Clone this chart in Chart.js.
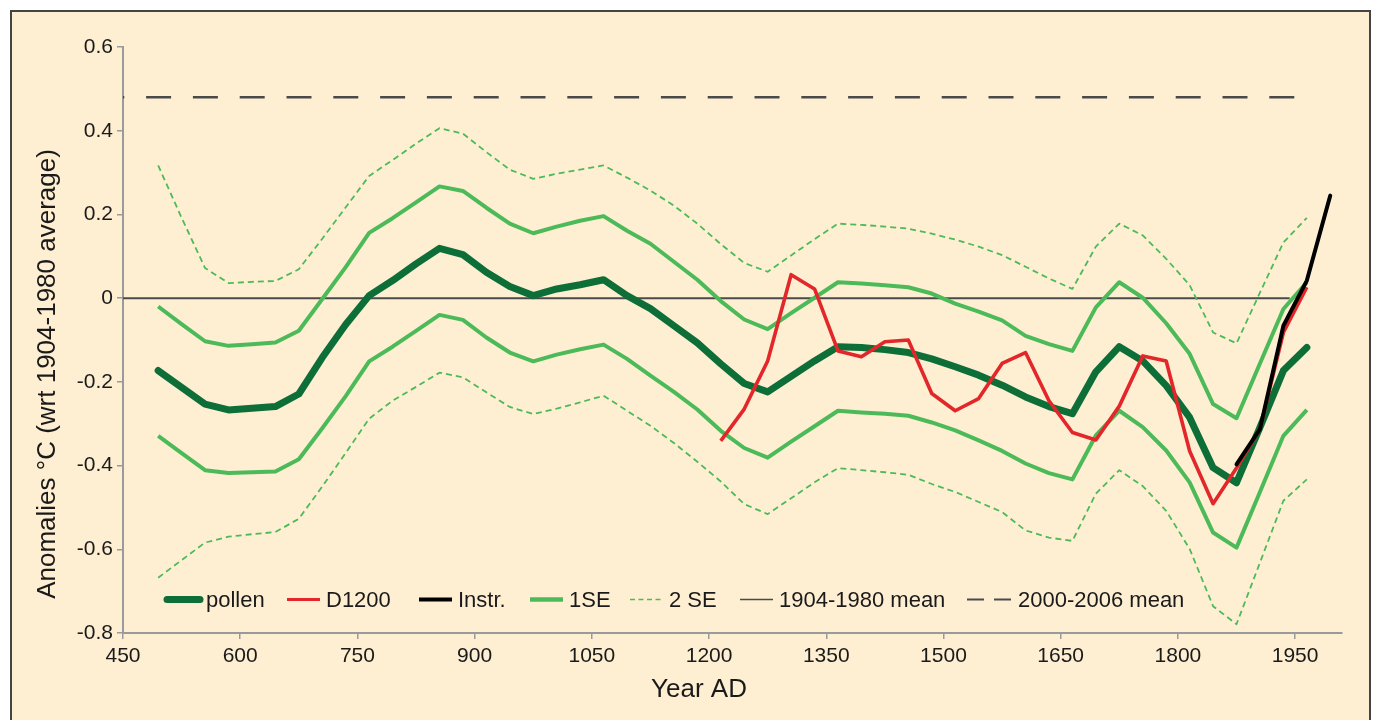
<!DOCTYPE html>
<html>
<head>
<meta charset="utf-8">
<title>Pollen temperature reconstruction</title>
<script src="https://cdn.jsdelivr.net/npm/chart.js@4.4.1/dist/chart.umd.min.js"></script>
<style>
    html, body { margin: 0; padding: 0; background: #ffffff; overflow: hidden; }
    #marco {
        position: absolute; left: 10px; top: 10px; width: 1361px; height: 760px;
        box-sizing: border-box; border: 2px solid #444; background: #feefd2;
    }
    #grafico { position: absolute; left: 0; top: 0; }
</style>
</head>
<body>
<div id="marco"></div>
<canvas id="grafico" width="1376" height="720"></canvas>
<script>
// ── Data ──────────────────────────────────────────────────
const years = [495, 525, 555, 585, 615, 645, 675, 705, 735, 765,
    795, 825, 855, 885, 915, 945, 975, 1005, 1035, 1065,
    1095, 1125, 1155, 1185, 1215, 1245, 1275, 1305, 1335, 1365,
    1395, 1425, 1455, 1485, 1515, 1545, 1575, 1605, 1635, 1665,
    1695, 1725, 1755, 1785, 1815, 1845, 1875, 1905, 1935, 1965];

const pollen = [-0.173, -0.213, -0.253, -0.267, -0.263, -0.259, -0.229, -0.142, -0.063, 0.006,
    0.042, 0.082, 0.119, 0.104, 0.062, 0.028, 0.006, 0.022, 0.032, 0.044,
    0.006, -0.025, -0.066, -0.107, -0.157, -0.204, -0.224, -0.187, -0.150, -0.116,
    -0.118, -0.123, -0.130, -0.145, -0.164, -0.184, -0.208, -0.236, -0.259, -0.276,
    -0.176, -0.116, -0.150, -0.209, -0.285, -0.405, -0.441, -0.309, -0.173, -0.118];

const se1Upper = [-0.020, -0.062, -0.103, -0.114, -0.110, -0.106, -0.078, -0.002, 0.074, 0.156,
    0.191, 0.229, 0.267, 0.256, 0.216, 0.178, 0.155, 0.171, 0.185, 0.196,
    0.161, 0.130, 0.087, 0.044, -0.007, -0.051, -0.074, -0.036, 0.001, 0.038,
    0.035, 0.031, 0.026, 0.011, -0.013, -0.032, -0.053, -0.090, -0.110, -0.126,
    -0.022, 0.038, 0.001, -0.060, -0.133, -0.253, -0.287, -0.156, -0.026, 0.038];

const se1Lower = [-0.329, -0.370, -0.411, -0.418, -0.416, -0.414, -0.385, -0.311, -0.234, -0.151,
    -0.116, -0.078, -0.040, -0.052, -0.094, -0.130, -0.151, -0.135, -0.122, -0.111,
    -0.145, -0.185, -0.224, -0.266, -0.317, -0.358, -0.381, -0.343, -0.306, -0.269,
    -0.273, -0.276, -0.281, -0.297, -0.316, -0.340, -0.365, -0.395, -0.418, -0.433,
    -0.328, -0.269, -0.308, -0.364, -0.440, -0.560, -0.596, -0.463, -0.329, -0.267];

const se2Upper = [0.317, 0.192, 0.072, 0.036, 0.039, 0.041, 0.069, 0.142, 0.217, 0.292,
    0.330, 0.369, 0.406, 0.393, 0.349, 0.307, 0.285, 0.297, 0.307, 0.317,
    0.288, 0.257, 0.221, 0.178, 0.129, 0.084, 0.063, 0.102, 0.141, 0.178,
    0.175, 0.171, 0.166, 0.154, 0.140, 0.123, 0.103, 0.075, 0.047, 0.022,
    0.123, 0.178, 0.150, 0.094, 0.031, -0.082, -0.108, 0.013, 0.133, 0.192];

const se2Lower = [-0.668, -0.626, -0.584, -0.570, -0.564, -0.559, -0.527, -0.450, -0.370, -0.288,
    -0.245, -0.212, -0.178, -0.189, -0.225, -0.260, -0.277, -0.264, -0.249, -0.233,
    -0.269, -0.305, -0.346, -0.391, -0.438, -0.492, -0.516, -0.478, -0.440, -0.406,
    -0.411, -0.416, -0.422, -0.444, -0.463, -0.487, -0.511, -0.555, -0.572, -0.580,
    -0.467, -0.411, -0.449, -0.508, -0.599, -0.736, -0.779, -0.632, -0.484, -0.433];

const d1200Years = [1215, 1245, 1275, 1305, 1335, 1365, 1395, 1425, 1455, 1485,
    1515, 1545, 1575, 1605, 1635, 1665, 1695, 1725, 1755, 1785,
    1815, 1845, 1875, 1905, 1935, 1965];
const d1200 = [-0.341, -0.265, -0.150, 0.056, 0.022, -0.126, -0.140, -0.104, -0.100, -0.228,
    -0.269, -0.240, -0.156, -0.130, -0.245, -0.321, -0.339, -0.258, -0.138, -0.150,
    -0.365, -0.491, -0.406, -0.313, -0.082, 0.026];

const instrYears = [1875, 1905, 1935, 1965, 1995];
const instr = [-0.397, -0.313, -0.066, 0.042, 0.245];

const meanYears = [450, 1943];
const mean1904 = [0, 0];
const recentYears = [450, 1950];
const mean2000 = [0.48, 0.48];

const xTicks = [450, 600, 750, 900, 1050, 1200, 1350, 1500, 1650, 1800, 1950];
const yTicks = [-0.8, -0.6, -0.4, -0.2, 0, 0.2, 0.4, 0.6];

// ── Helpers ───────────────────────────────────────────────
const pts = (xs, ys) => xs.map((x, i) => ({ x, y: ys[i] }));

const GREEN_DARK = '#0d6e38';
const GREEN = '#4dba5a';
const RED = '#e3262a';
const GREY = '#4a4a4a';
const TEXT = '#1a1a1a';
const FONT = '"Liberation Sans", Arial, Helvetica, sans-serif';

Chart.defaults.font.family = FONT;
Chart.defaults.color = TEXT;

// Legend items (drawn inside the plot area, like the original)
const legendItems = [
    { text: 'pollen', x: 167, color: GREEN_DARK, width: 7, cap: 'round' },
    { text: 'D1200', x: 287, color: RED, width: 3 },
    { text: 'Instr.', x: 419, color: '#000000', width: 4 },
    { text: '1SE', x: 530, color: GREEN, width: 4.5 },
    { text: '2 SE', x: 630, color: GREEN, width: 1.6, dash: [5, 3.5] },
    { text: '1904-1980 mean', x: 740, color: GREY, width: 1.6 },
    { text: '2000-2006 mean', x: 967, color: GREY, width: 2, dash: [17, 10], len: 45 }
];

const decorPlugin = {
    id: 'decor',
    afterDatasetsDraw(chart) {
        const { ctx } = chart;
        const yLeg = chart.scales.y.getPixelForValue(-0.72);
        ctx.save();
        ctx.font = '22px ' + FONT;
        ctx.textBaseline = 'middle';
        ctx.textAlign = 'left';
        legendItems.forEach(it => {
            const len = it.len || 33;
            ctx.beginPath();
            ctx.strokeStyle = it.color;
            ctx.lineWidth = it.width;
            ctx.lineCap = it.cap || 'butt';
            ctx.setLineDash(it.dash || []);
            ctx.moveTo(it.x, yLeg);
            ctx.lineTo(it.x + len, yLeg);
            ctx.stroke();
            ctx.setLineDash([]);
            ctx.fillStyle = TEXT;
            ctx.fillText(it.text, it.x + len + 6, yLeg + 1);
        });
        ctx.restore();
    },
    afterDraw(chart) {
        const { ctx } = chart;
        ctx.save();
        ctx.fillStyle = TEXT;
        ctx.font = '26px ' + FONT;
        ctx.textAlign = 'center';
        ctx.textBaseline = 'middle';
        ctx.fillText('Year AD', 699, 690);
        ctx.translate(47.5, 374);
        ctx.rotate(-Math.PI / 2);
        ctx.fillText('Anomalies °C (wrt 1904-1980 average)', 0, 0);
        ctx.restore();
    }
};

const lineDefaults = { pointRadius: 0, tension: 0, fill: false, borderJoinStyle: 'round' };

new Chart(document.getElementById('grafico'), {
    type: 'line',
    data: {
        datasets: [
            { ...lineDefaults, label: 'pollen', data: pts(years, pollen), borderColor: GREEN_DARK, borderWidth: 7, borderCapStyle: 'round', order: 2 },
            { ...lineDefaults, label: 'D1200', data: pts(d1200Years, d1200), borderColor: RED, borderWidth: 3.6, order: 1 },
            { ...lineDefaults, label: 'Instr.', data: pts(instrYears, instr), borderColor: '#000000', borderWidth: 4, borderCapStyle: 'round', order: 0 },
            { ...lineDefaults, label: '1SE', data: pts(years, se1Upper), borderColor: GREEN, borderWidth: 4, order: 3 },
            { ...lineDefaults, label: '1SE', data: pts(years, se1Lower), borderColor: GREEN, borderWidth: 4, order: 3 },
            { ...lineDefaults, label: '2 SE', data: pts(years, se2Upper), borderColor: GREEN, borderWidth: 1.8, borderDash: [6, 4], order: 4 },
            { ...lineDefaults, label: '2 SE', data: pts(years, se2Lower), borderColor: GREEN, borderWidth: 1.8, borderDash: [6, 4], order: 4 },
            { ...lineDefaults, label: '1904-1980 mean', data: pts(meanYears, mean1904), borderColor: GREY, borderWidth: 2, order: 5 },
            { ...lineDefaults, label: '2000-2006 mean', data: pts(recentYears, mean2000), borderColor: GREY, borderWidth: 2.5, borderDash: [25, 21.8], borderDashOffset: 23.7, order: 5 }
        ]
    },
    options: {
        responsive: false,
        animation: false,
        events: [],
        layout: { padding: { top: 47, right: 34, left: 0, bottom: 0 } },
        plugins: { legend: { display: false }, tooltip: { enabled: false } },
        scales: {
            x: {
                type: 'linear',
                min: 450,
                max: 2010,
                afterBuildTicks: s => { s.ticks = xTicks.map(v => ({ value: v })); },
                afterFit: s => { s.height = 87; },
                border: { color: '#9a9a9a', width: 2 },
                grid: { drawOnChartArea: false, tickLength: 6, color: '#9a9a9a', lineWidth: 1.5 },
                ticks: {
                    color: TEXT, font: { size: 21 }, padding: 5, maxRotation: 0, autoSkip: false,
                    callback: v => String(v)
                }
            },
            y: {
                type: 'linear',
                min: -0.8,
                max: 0.6,
                afterBuildTicks: s => { s.ticks = yTicks.map(v => ({ value: v })); },
                afterFit: s => { s.width = 123; },
                border: { color: '#9a9a9a', width: 2 },
                grid: { drawOnChartArea: false, tickLength: 6, color: '#9a9a9a', lineWidth: 1.5 },
                ticks: {
                    color: TEXT, font: { size: 21 }, padding: 4, autoSkip: false,
                    callback: v => (Math.abs(v) < 1e-9 ? '0' : v.toFixed(1))
                }
            }
        }
    },
    plugins: [decorPlugin]
});
</script>
</body>
</html>
